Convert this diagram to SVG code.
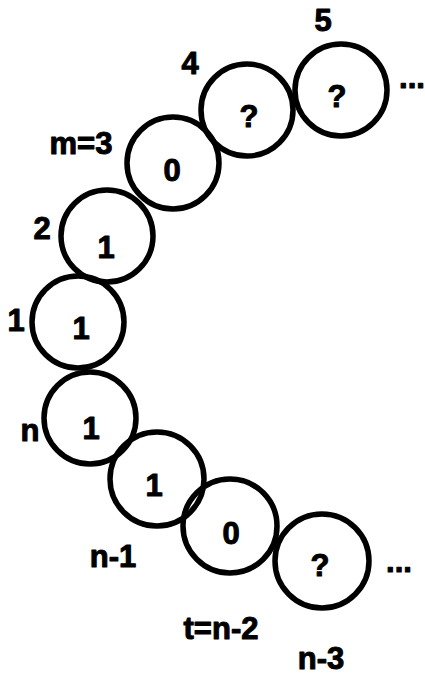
<svg xmlns="http://www.w3.org/2000/svg" width="425" height="676" viewBox="0 0 425 676">
<style>
.c{fill:none;stroke:#000;stroke-width:5.5}
text{font-family:"Liberation Sans",Arial,sans-serif;font-weight:bold;font-size:31px;fill:#000;stroke:#000;stroke-width:1;stroke-linejoin:round;text-anchor:middle}
</style>
<rect width="425" height="676" fill="#fff"/>
<g id="node-5"><circle class="c" cx="341" cy="90" r="46"/><text x="337" y="107">?</text><text x="323" y="31">5</text></g>
<g id="node-4"><circle class="c" cx="247" cy="110" r="46"/><text x="249" y="127">?</text><text x="190" y="74">4</text></g>
<g id="node-m3"><circle class="c" cx="173" cy="163" r="46"/><text x="172" y="181">0</text><text x="81" y="154">m=3</text></g>
<g id="node-2"><circle class="c" cx="107" cy="236" r="46"/><text x="106" y="258">1</text><text x="42" y="239">2</text></g>
<g id="node-1"><circle class="c" cx="78" cy="322" r="46"/><text x="81" y="339">1</text><text x="16" y="331">1</text></g>
<g id="node-n"><circle class="c" cx="90" cy="418" r="46"/><text x="91" y="439">1</text><text x="30" y="441">n</text></g>
<g id="node-n1"><circle class="c" cx="157" cy="479" r="47"/><text x="154" y="496">1</text><text x="113" y="567">n-1</text></g>
<g id="node-t"><circle class="c" cx="230" cy="526" r="47"/><text x="231" y="544">0</text><text x="221" y="639">t=n-2</text></g>
<g id="node-n3"><circle class="c" cx="322" cy="561" r="47"/><text x="320" y="576">?</text><text x="321" y="669">n-3</text></g>
<g id="ellipses"><text x="412" y="88">...</text><text x="399" y="572">...</text></g>
</svg>
